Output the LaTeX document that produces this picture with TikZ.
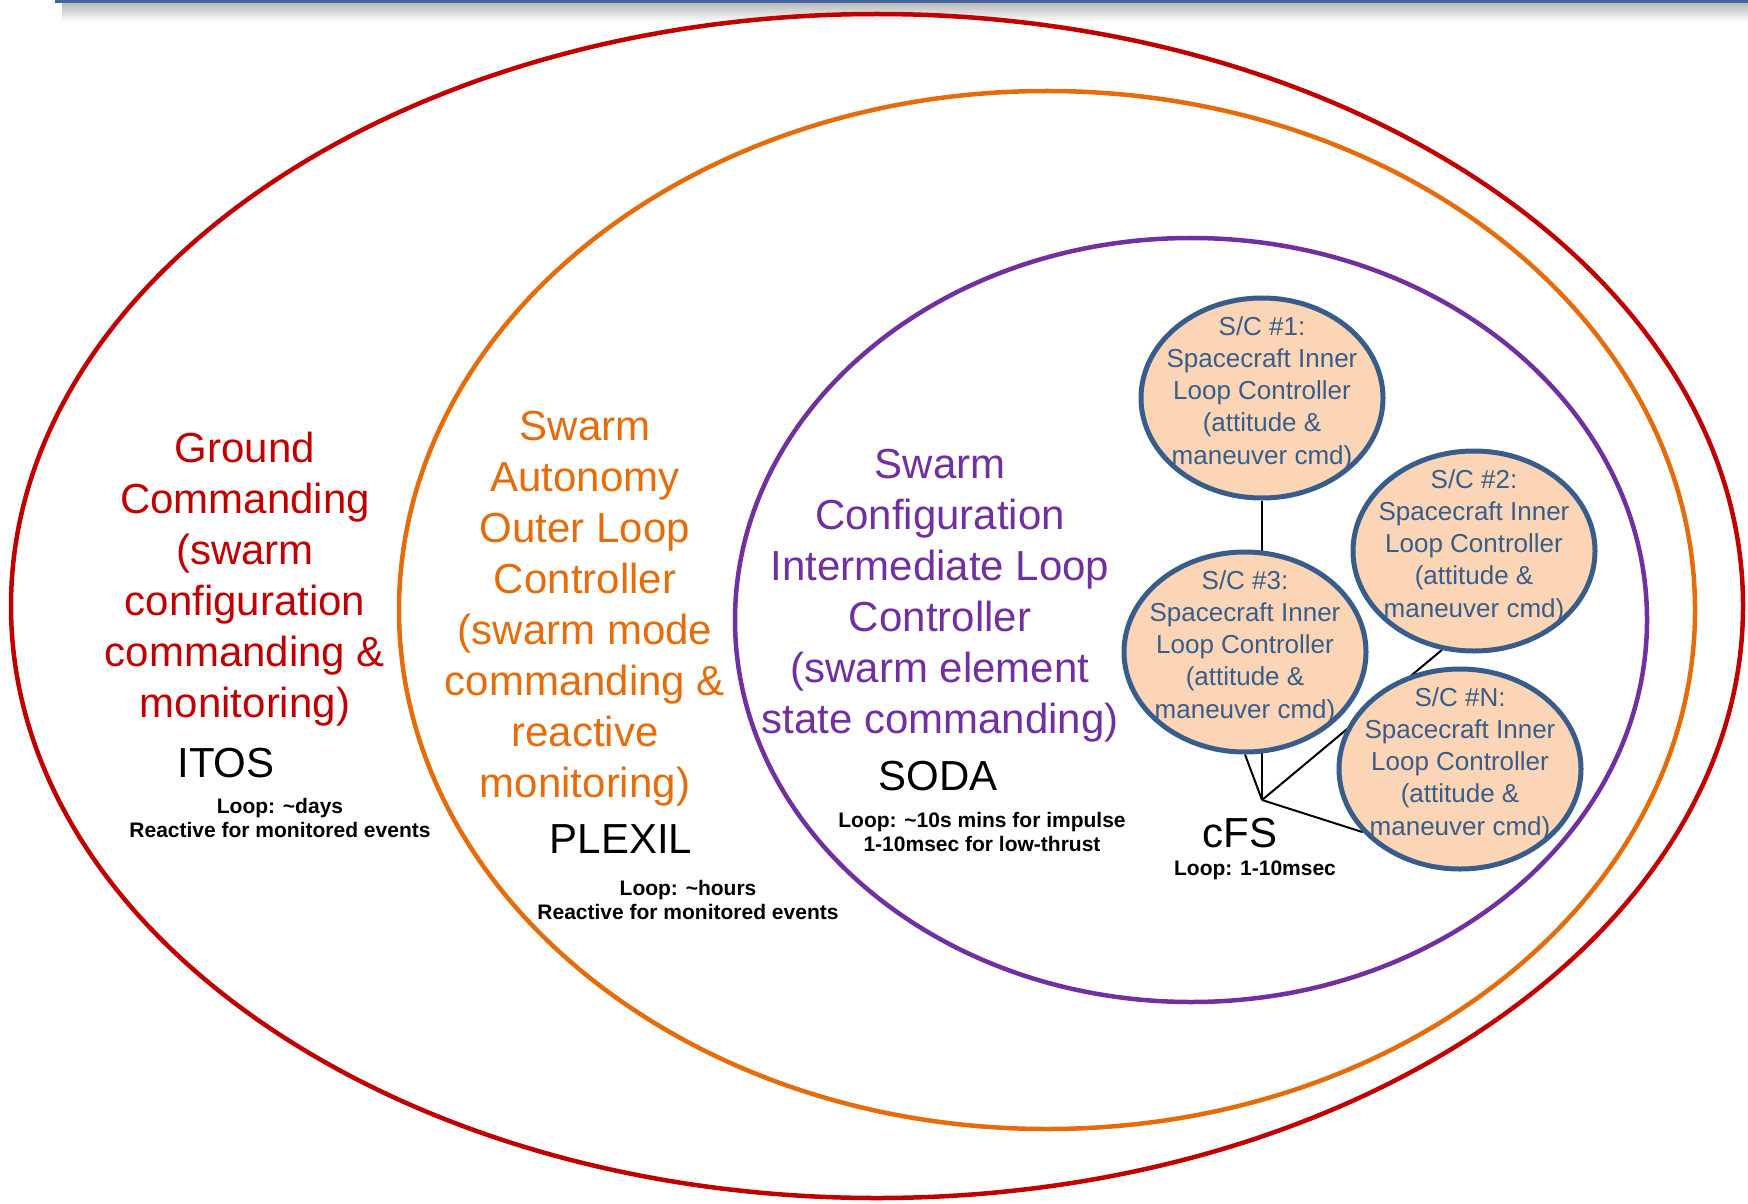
\documentclass[tikz,border=0pt]{standalone}
\usepackage{fontspec}
\setmainfont{Liberation Sans}
\usepackage{tikz}
\usetikzlibrary{shapes.geometric, positioning}
\definecolor{groundred}{RGB}{192, 0, 0}
\definecolor{outerorange}{RGB}{228, 108, 10}
\definecolor{midpurple}{RGB}{112, 48, 160}
\definecolor{scblue}{RGB}{56, 93, 138}
\definecolor{scfill}{RGB}{251, 213, 181}
\definecolor{barblue}{RGB}{70, 100, 160}
\pgfdeclarelayer{background}
\pgfsetlayers{background,main}

\begin{document}
\begin{tikzpicture}[
    x=0.5pt, y=-0.5pt,
    ringline/.style={line width=2.25pt},
    sc/.style={ellipse, draw=scblue, line width=2.5pt, fill=scfill, minimum width=121pt, minimum height=100pt, inner sep=0pt},
    sctext/.style={align=center, text=scblue, yshift=2.5pt, font=\fontsize{13}{16.1}\selectfont},
    title/.style={align=center, font=\fontsize{21}{25.5}\selectfont},
    tool/.style={font=\fontsize{21}{25.5}\selectfont, anchor=base},
    note/.style={align=center, font=\fontsize{10.5}{12}\selectfont\bfseries},
    link/.style={line width=1pt}
]
    \useasboundingbox (0,0) rectangle (1748,1203);
    \clip (0,0) rectangle (1748,1203);
    % slide header bar
    \shade[top color=gray!55, bottom color=white] (62,3) rectangle (1748,22);
    \fill[barblue] (55,0) rectangle (1748,3);

    % nested loop levels
    \draw[ringline, groundred] (877,606) ellipse [x radius=866, y radius=592];
    \draw[ringline, outerorange] (1047,610) ellipse [x radius=648, y radius=519];
    \draw[ringline, midpurple] (1191,620) ellipse [x radius=456, y radius=382];

    \node[title, groundred] (ground) at (245,579) {Ground\\Commanding\\(swarm\\configuration\\commanding \&\\monitoring)};
    \node[tool] (itos) at (226,777) {ITOS};
    \node[note] (itosloop) at (280,818) {Loop: \textasciitilde days\\Reactive for monitored events};

    \node[title, outerorange] (outer) at (585,609) {Swarm\\Autonomy\\Outer Loop\\Controller\\(swarm mode\\commanding \&\\reactive\\monitoring)};
    \node[tool] (plexil) at (621,853) {PLEXIL};
    \node[note] (plexilloop) at (688,900) {Loop: \textasciitilde hours\\Reactive for monitored events};

    \node[title, midpurple] (mid) at (940,596) {Swarm\\Configuration\\Intermediate Loop\\Controller\\(swarm element\\state commanding)};
    \node[tool] (soda) at (938,790) {SODA};
    \node[note] (sodaloop) at (982,832) {Loop: \textasciitilde 10s mins for impulse\\1-10msec for low-thrust};

    % spacecraft inner loops
    \node[sc] (sc1) at (1262,398) {};
    \node[sc] (sc2) at (1474,551) {};
    \node[sc] (sc3) at (1245,652) {};
    \node[sc] (scn) at (1460,769) {};
    \node[sctext] (sc1text) at (sc1) {S/C \#1:\\Spacecraft Inner\\Loop Controller\\(attitude \&\\maneuver cmd)};
    \node[sctext] (sc2text) at (sc2) {S/C \#2:\\Spacecraft Inner\\Loop Controller\\(attitude \&\\maneuver cmd)};
    \node[sctext] (sc3text) at (sc3) {S/C \#3:\\Spacecraft Inner\\Loop Controller\\(attitude \&\\maneuver cmd)};
    \node[sctext] (scntext) at (scn) {S/C \#N:\\Spacecraft Inner\\Loop Controller\\(attitude \&\\maneuver cmd)};

    \coordinate (hub) at (1262,800);
    \node[tool] (cfs) at (1240,847) {cFS};
    \node[note, anchor=base] (cfsloop) at (1255,875) {Loop: 1-10msec};

    \begin{pgfonlayer}{background}
        \draw[link] (hub) -- (sc1.south);
        \draw[link] (hub) -- (sc3.south);
        \draw[link] (hub) -- (sc2.252);
        \draw[link] (hub) -- (scn.213);
    \end{pgfonlayer}
\end{tikzpicture}
\end{document}
